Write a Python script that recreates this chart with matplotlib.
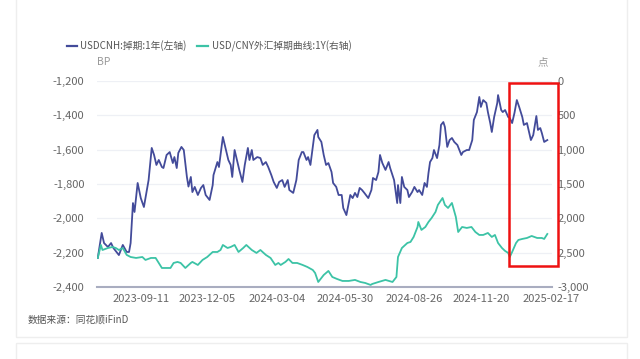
import matplotlib
matplotlib.use('Agg')
import matplotlib.pyplot as plt
import matplotlib.dates as mdates
from matplotlib.patches import Rectangle
from matplotlib.ticker import FuncFormatter
import pandas as pd

plt.rcParams['font.family'] = ['Noto Sans CJK SC', 'DejaVu Sans']

# data (days after 2023-07-18)
start = pd.Timestamp('2023-07-18')

cnh_days = [0, 5, 8, 13, 17, 20, 27, 32, 37, 40, 42, 45, 47, 51, 55, 59, 61, 65, 69, 72,
            75, 78, 82, 84, 88, 92, 96, 98, 101, 103, 107, 110, 114, 116, 119, 121, 124, 128, 132, 135,
            138, 143, 147, 148, 153, 155, 160, 163, 167, 170, 172, 175, 179, 181, 185, 188, 192, 194, 197, 199,
            204, 208, 211, 215, 218, 222, 225, 229, 232, 236, 239, 243, 245, 250, 254, 257, 261, 263, 267, 269,
            272, 275, 277, 281, 282, 286, 289, 292, 295, 299, 301, 305, 308, 312, 314, 318, 321, 323, 326, 329,
            332, 335, 338, 341, 346, 350, 352, 356, 359, 361, 364, 368, 372, 374, 377, 379, 383, 384, 387, 389,
            392, 396, 398, 402, 405, 409, 411, 415, 418, 421, 423, 425, 428, 430, 434, 437, 439, 442, 444, 447,
            450, 453, 456, 460, 465, 467, 472, 475, 479, 481, 485, 488, 490, 493, 497, 499, 502, 504, 507, 511,
            512, 516, 518, 521, 525, 527, 530, 533, 536, 539, 543, 545, 549, 552, 554, 557, 561, 563, 566, 568,
            571, 575]
cnh_swap = [-2231, -2085, -2144, -2167, -2144, -2173, -2214, -2155, -2196, -2196, -2144, -1911, -1963, -1794, -1882, -1934, -1882, -1777, -1590, -1631,
            -1689, -1660, -1701, -1707, -1631, -1614, -1678, -1643, -1707, -1619, -1584, -1602, -1759, -1815, -1759, -1847, -1817, -1864, -1823, -1806,
            -1864, -1893, -1806, -1748, -1672, -1701, -1526, -1584, -1660, -1689, -1759, -1602, -1678, -1718, -1788, -1689, -1590, -1660, -1602, -1660,
            -1643, -1649, -1689, -1672, -1701, -1748, -1788, -1823, -1788, -1777, -1817, -1777, -1835, -1852, -1777, -1660, -1614, -1614, -1660, -1643,
            -1689, -1584, -1515, -1485, -1526, -1555, -1631, -1689, -1678, -1730, -1794, -1817, -1864, -1864, -1940, -1981, -1911, -1864, -1882, -1852,
            -1876, -1823, -1835, -1852, -1882, -1835, -1765, -1777, -1730, -1631, -1678, -1718, -1672, -1707, -1748, -1777, -1911, -1806, -1911, -1759,
            -1817, -1835, -1876, -1847, -1817, -1847, -1835, -1864, -1794, -1817, -1736, -1672, -1649, -1602, -1649, -1573, -1456, -1439, -1468, -1584,
            -1544, -1532, -1555, -1573, -1631, -1614, -1602, -1602, -1544, -1427, -1381, -1293, -1351, -1311, -1328, -1381, -1445, -1497, -1410, -1328,
            -1282, -1369, -1381, -1369, -1410, -1416, -1445, -1386, -1311, -1351, -1410, -1456, -1445, -1503, -1544, -1515, -1404, -1485, -1474, -1503,
            -1555, -1544]

cny_days = [0, 4, 6, 13, 19, 23, 27, 32, 37, 42, 49, 57, 61, 68, 74, 78, 82, 89, 93, 97,
            102, 106, 112, 119, 121, 128, 134, 140, 147, 153, 157, 160, 166, 170, 175, 180, 186, 190, 197, 203,
            208, 215, 221, 227, 231, 234, 240, 244, 249, 255, 262, 268, 275, 278, 282, 289, 295, 300, 306, 313,
            321, 329, 336, 342, 349, 351, 359, 368, 377, 382, 384, 389, 396, 400, 404, 409, 410, 414, 419, 423,
            427, 432, 435, 441, 444, 448, 453, 458, 461, 466, 472, 478, 483, 488, 493, 499, 504, 508, 512, 517,
            521, 525, 527, 530, 535, 538, 543, 549, 555, 562, 568, 571, 575]
cny_swap = [-2577, -2388, -2461, -2432, -2417, -2432, -2461, -2432, -2533, -2563, -2577, -2563, -2606, -2577, -2577, -2650, -2723, -2723, -2723, -2650,
            -2635, -2650, -2723, -2650, -2635, -2679, -2606, -2563, -2490, -2490, -2461, -2388, -2432, -2417, -2388, -2490, -2432, -2388, -2461, -2504,
            -2461, -2533, -2577, -2679, -2650, -2679, -2635, -2592, -2650, -2650, -2679, -2708, -2752, -2796, -2927, -2825, -2766, -2854, -2883, -2912,
            -2912, -2897, -2927, -2941, -2970, -2956, -2927, -2897, -2927, -2854, -2563, -2432, -2359, -2344, -2271, -2126, -2053, -2169, -2126, -2053,
            -1995, -1907, -1805, -1704, -1805, -1849, -1776, -1980, -2199, -2126, -2140, -2126, -2199, -2242, -2242, -2213, -2271, -2242, -2359, -2432,
            -2475, -2504, -2563, -2490, -2359, -2315, -2300, -2286, -2257, -2286, -2286, -2300, -2228]

tick_dates = ['2023-09-11', '2023-12-05', '2024-03-04', '2024-05-30', '2024-08-26', '2024-11-20', '2025-02-17']
left_ticks = [-2400, -2200, -2000, -1800, -1600, -1400, -1200]
right_ticks = [-3000, -2500, -2000, -1500, -1000, -500, 0]
right_labels = ['-3,000', '2,500', '2,000', '1,500', '1,000', '500', '0']

cnh_dates = start + pd.to_timedelta(cnh_days, unit='D')
cny_dates = start + pd.to_timedelta(cny_days, unit='D')

blue = '#434b9a'
teal = '#3cc3a6'
grey = '#666666'

fig = plt.figure(figsize=(6.4, 3.59), dpi=100)
fig.patch.set_facecolor('white')
ax = fig.add_axes([97 / 640, 1 - 287 / 359, 455 / 640, 206 / 359])
ax2 = ax.twinx()

ax.plot(cnh_dates, cnh_swap, color=blue, lw=1.3, zorder=3)
ax2.plot(cny_dates, cny_swap, color=teal, lw=1.3, zorder=3)

ax.set_xlim(start - pd.Timedelta(days=1), start + pd.Timedelta(days=581))
ax.set_ylim(-2400, -1200)
ax2.set_ylim(-3000, 0)

ax.set_yticks(left_ticks)
ax.yaxis.set_major_formatter(FuncFormatter(lambda v, p: f'{v:,.0f}'))
ax2.set_yticks(right_ticks)
ax2.set_yticklabels(right_labels)

ax.set_xticks(pd.to_datetime(tick_dates))
ax.xaxis.set_major_formatter(mdates.DateFormatter('%Y-%m-%d'))

ax.grid(axis='y', color='#eef0f5', lw=0.9)
ax.grid(axis='x', visible=False)
for a in (ax, ax2):
    for s in ['top', 'left', 'right']:
        a.spines[s].set_visible(False)
    a.tick_params(length=0, labelsize=8, labelcolor=grey)
ax2.spines['bottom'].set_visible(False)
ax.spines['bottom'].set_color('#a9adc0')
ax.spines['bottom'].set_linewidth(1.5)
ax.tick_params(axis='x', pad=5)
ax.tick_params(axis='y', pad=9)
ax2.tick_params(axis='y', pad=4)

# units
fig.text(97 / 640, 1 - 62 / 359, 'BP', fontsize=7.5, color='#999999', ha='left', va='center')
fig.text(543 / 640, 1 - 62 / 359, '点', fontsize=7.5, color='#999999', ha='center', va='center')

# legend
ly = 1 - 46 / 359
fig.add_artist(plt.Line2D([67 / 640, 77 / 640], [ly, ly], color=blue, lw=1.6))
fig.text(80 / 640, ly, 'USDCNH:掉期:1年(左轴)', fontsize=7, color='#555555', va='center')
fig.add_artist(plt.Line2D([197 / 640, 208 / 640], [ly, ly], color=teal, lw=1.6))
fig.text(212 / 640, ly, 'USD/CNY外汇掉期曲线:1Y(右轴)', fontsize=7, color='#555555', va='center')

fig.text(28 / 640, 1 - 320 / 359, '数据来源：同花顺iFinD', fontsize=7, color='#555555', va='center')

# card borders
fig.add_artist(Rectangle((16 / 640, 1 - 337 / 359), 611 / 640, 340 / 359, transform=fig.transFigure,
                         fill=False, ec='#eeeeee', lw=1))
fig.add_artist(Rectangle((16 / 640, -0.05), 611 / 640, 1 - 343 / 359 + 0.05, transform=fig.transFigure,
                         fill=False, ec='#eeeeee', lw=1))

# red highlight box
fig.add_artist(Rectangle((509 / 640, 1 - 266 / 359), 49 / 640, 183 / 359, transform=fig.transFigure,
                         fill=False, ec='#ee1111', lw=1.8, zorder=10))

fig.savefig('out.png', dpi=100, facecolor='white')
